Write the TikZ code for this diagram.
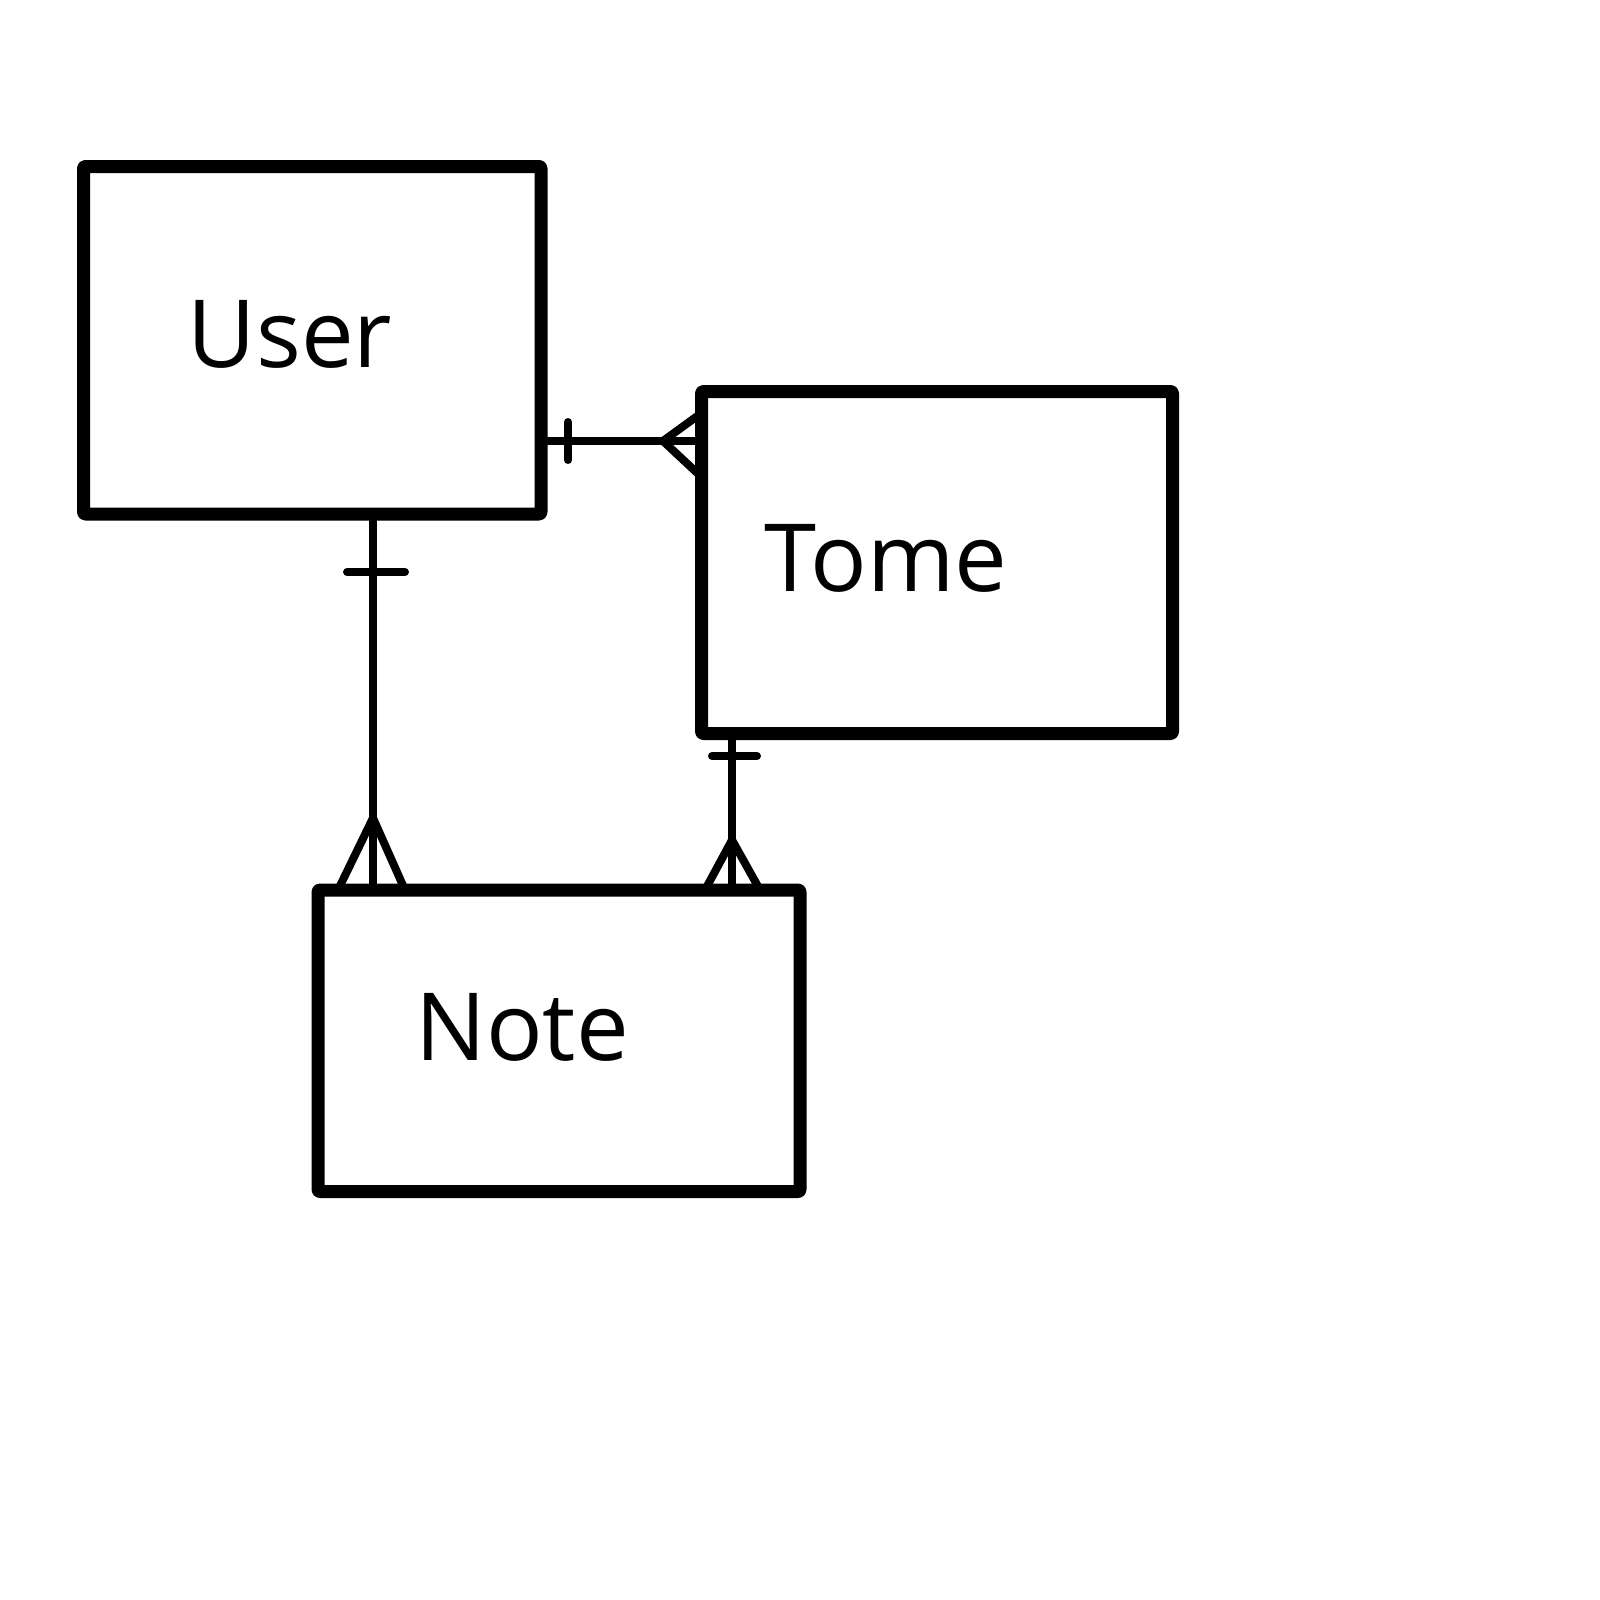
\documentclass[tikz,border=0pt]{standalone}
\usepackage{fontspec}
\setmainfont{Open Sans}
\begin{document}
\begin{tikzpicture}[x=1pt,y=-1pt,
  entity/.style={draw=black, line width=13pt, rectangle, rounded corners=2pt, line join=round, inner sep=0pt, outer sep=0pt},
  lbl/.style={inner sep=0pt, font=\fontsize{94}{100}\selectfont},
  conn/.style={draw=black, line width=8pt, line cap=round, line join=round}]
\useasboundingbox (0,0) rectangle (1600,1600);
\fill[white] (0,0) rectangle (1600,1600);
% entities
\node[entity, minimum width=457.5pt, minimum height=347.5pt] (user) at (312.25,340.25) {};
\node[entity, minimum width=471pt, minimum height=342pt] (tome) at (937,562.5) {};
\node[entity, minimum width=482pt, minimum height=301.5pt] (note) at (559,1040.75) {};
\node[lbl] (userlbl) at (290,334) {User};
\node[lbl] (tomelbl) at (886,558) {Tome};
\node[lbl] (notelbl) at (522,1027.5) {Note};
% helper coordinates
\coordinate (ut) at (0,441);
\coordinate (utA) at (0,413);
\coordinate (utB) at (0,477);
\coordinate (utP) at (663,441);
\coordinate (utbar1) at (568,422);
\coordinate (utbar2) at (568,460);
\coordinate (un) at (373,0);
\coordinate (unP) at (373,818);
\coordinate (unA) at (338,0);
\coordinate (unB) at (405,0);
\coordinate (unbar1) at (347,572);
\coordinate (unbar2) at (405,572);
\coordinate (tn) at (732,0);
\coordinate (tnP) at (732,840);
\coordinate (tnA) at (705,0);
\coordinate (tnB) at (760,0);
\coordinate (tnbar1) at (712,756);
\coordinate (tnbar2) at (757,756);
% User -- Tome
\draw[conn, line cap=butt] (user.east |- ut) -- (tome.west |- ut);
\draw[conn] (utbar1) -- (utbar2);
\draw[conn, line cap=butt] (tome.west |- utA) -- (utP) -- (tome.west |- utB);
% User -- Note
\draw[conn, line cap=butt] (user.south -| un) -- (note.north -| un);
\draw[conn] (unbar1) -- (unbar2);
\draw[conn, line cap=butt] (note.north -| unA) -- (unP) -- (note.north -| unB);
% Tome -- Note
\draw[conn, line cap=butt] (tome.south -| tn) -- (note.north -| tn);
\draw[conn] (tnbar1) -- (tnbar2);
\draw[conn, line cap=butt] (note.north -| tnA) -- (tnP) -- (note.north -| tnB);
\end{tikzpicture}
\end{document}
